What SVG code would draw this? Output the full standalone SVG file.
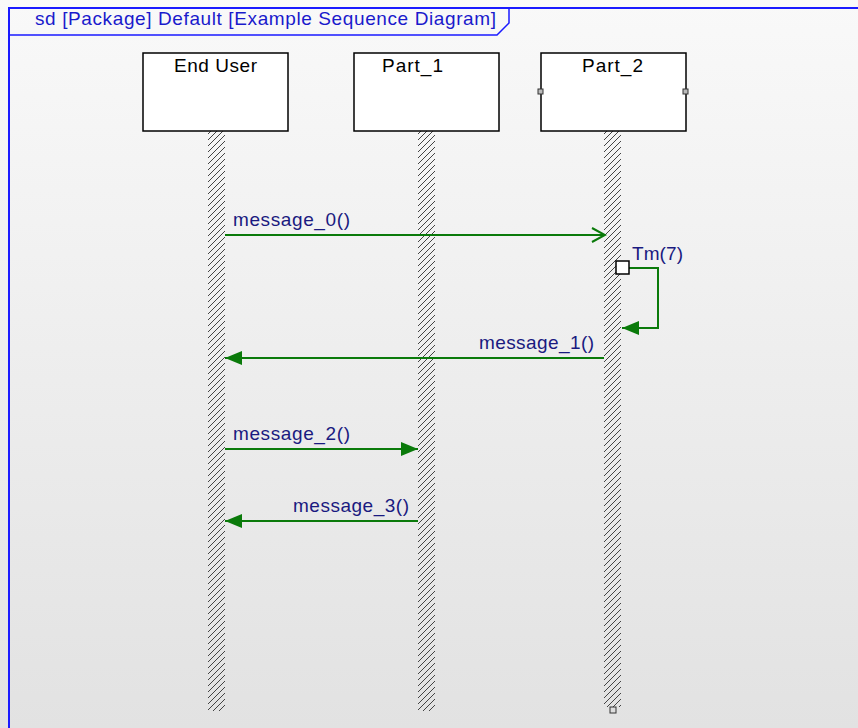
<svg xmlns="http://www.w3.org/2000/svg" width="858" height="728" viewBox="0 0 858 728">
<defs>
<linearGradient id="bg" x1="0" y1="0" x2="0" y2="1">
<stop offset="0" stop-color="#f9f9f9"/>
<stop offset="1" stop-color="#e2e2e2"/>
</linearGradient>
<pattern id="hatch" patternUnits="userSpaceOnUse" width="6" height="6">
<path d="M-1,7 L7,-1 M-1,1 L1,-1 M5,7 L7,5" stroke="#444" stroke-width="1"/>
</pattern>
<marker id="open" markerWidth="16" markerHeight="16" refX="14" refY="8" orient="auto" markerUnits="userSpaceOnUse">
<path d="M1,1 L14,8 L1,15" fill="none" stroke="#0a7a0a" stroke-width="2"/>
</marker>
<marker id="filled" markerWidth="18" markerHeight="14" refX="17" refY="7" orient="auto" markerUnits="userSpaceOnUse">
<path d="M0,0 L17,7 L0,14 Z" fill="#0a7a0a"/>
</marker>
</defs>
<style>
.box{fill:#fff;stroke:#000;stroke-width:1.5}
.name{font-family:"Liberation Sans",Arial,sans-serif;font-size:19px;fill:#000}
.msg{font-family:"Liberation Sans",Arial,sans-serif;font-size:19px;fill:#1a1a80}
.life{fill:url(#hatch)}
.conn{stroke:#0a7a0a;stroke-width:2;fill:none}
.port{fill:#bbb;stroke:#333;stroke-width:1}
</style>
<rect x="0" y="0" width="858" height="728" fill="url(#bg)"/>
<g id="frame">
<path d="M9,728 L9,8 L858,8" fill="none" stroke="#1a1aff" stroke-width="2"/>
<path d="M9,35 L497,35 L509,23 L509,8" fill="none" stroke="#1a1aff" stroke-width="1.5"/>
<text x="35" y="25" font-family="'Liberation Sans',Arial,sans-serif" font-size="19" fill="#1a1acc" textLength="461" lengthAdjust="spacing">sd [Package] Default [Example Sequence Diagram]</text>
</g>
<g id="end_user">
<rect class="life" x="208" y="131" width="17" height="580"/>
<rect class="box" x="143" y="53" width="145" height="78"/>
<text class="name" x="174" y="72" textLength="83" lengthAdjust="spacing">End User</text>
</g>
<g id="part_1">
<rect class="life" x="418" y="131" width="17" height="580"/>
<rect class="box" x="354" y="53" width="145" height="78"/>
<text class="name" x="382" y="72" textLength="61" lengthAdjust="spacing">Part_1</text>
</g>
<g id="part_2">
<rect class="life" x="604" y="131" width="17" height="576"/>
<rect class="box" x="541" y="53" width="145" height="78"/>
<text class="name" x="582" y="72" textLength="61" lengthAdjust="spacing">Part_2</text>
<rect class="port" x="538" y="89" width="5" height="5"/>
<rect class="port" x="683" y="89" width="5" height="5"/>
<rect x="610" y="707" width="6" height="6" fill="#ddd" stroke="#333" stroke-width="1"/>
</g>
<g id="connectors">
<line class="conn" x1="225" y1="235" x2="605" y2="235" marker-end="url(#open)"/>
<text class="msg" x="233" y="226" textLength="117" lengthAdjust="spacing">message_0()</text>
<path class="conn" d="M629,268 L658,268 L658,328 L622,328" marker-end="url(#filled)"/>
<rect x="616" y="261" width="13" height="13" fill="#fff" stroke="#000" stroke-width="1.5"/>
<text class="msg" x="632" y="260" textLength="51" lengthAdjust="spacing">Tm(7)</text>
<line class="conn" x1="604" y1="358" x2="225" y2="358" marker-end="url(#filled)"/>
<text class="msg" x="479" y="349" textLength="115" lengthAdjust="spacing">message_1()</text>
<line class="conn" x1="225" y1="449" x2="418" y2="449" marker-end="url(#filled)"/>
<text class="msg" x="233" y="440" textLength="117" lengthAdjust="spacing">message_2()</text>
<line class="conn" x1="418" y1="521" x2="225" y2="521" marker-end="url(#filled)"/>
<text class="msg" x="293" y="512" textLength="116" lengthAdjust="spacing">message_3()</text>
</g>
</svg>
